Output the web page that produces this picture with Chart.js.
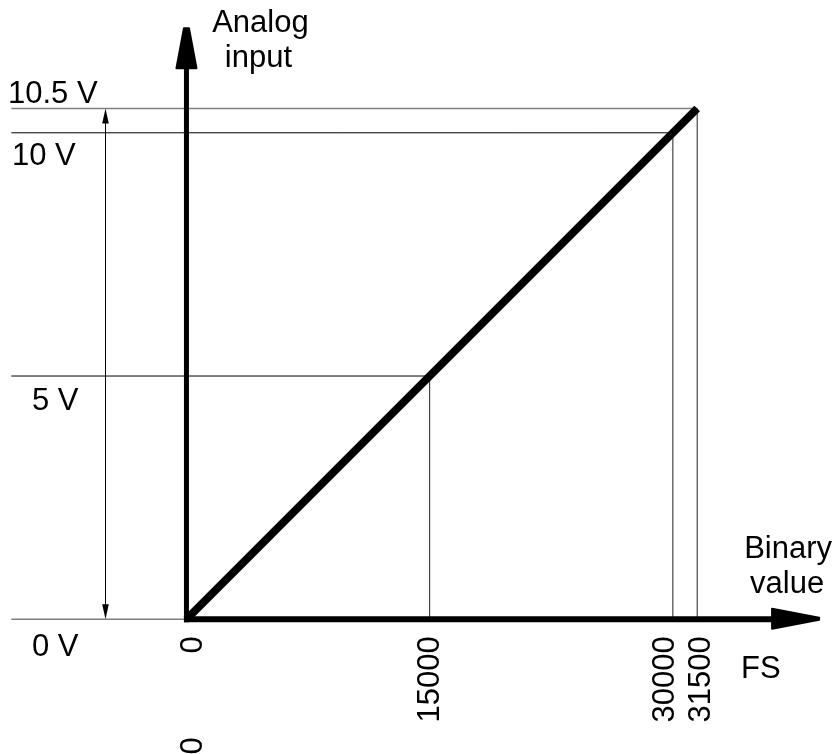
<!DOCTYPE html>
<html>
<head>
<meta charset="utf-8">
<script src="https://cdn.jsdelivr.net/npm/chart.js@4.4.1/dist/chart.umd.min.js"></script>
<style>
  body { margin: 0; background: #fff; }
  #wrap { width: 835px; height: 754px; position: relative; }
</style>
</head>
<body>
<div id="wrap"><canvas id="myChart"></canvas></div>
<script>
// values
const xTicks = [0, 15000, 30000, 31500];
const xTickLabels = ['0', '15000', '30000', '31500'];
const yLevels = [0, 5, 10, 10.5];
const yLevelLabels = ['0 V', '5 V', '10 V', '10.5 V'];
const lineX = [0, 31500];
const lineY = [0, 10.5];
const dimX = -5000;       // the double arrow left of the y axis
const refStartX = -10800; // where the level lines start
const xAxisEnd = 39080;
const yAxisEnd = 12.17;

const FONT = '31px "Liberation Sans", Arial, sans-serif';

const datasets = [];
datasets.push({
    data: lineX.map((x, i) => ({ x: x, y: lineY[i] })),
    borderColor: '#000',
    borderWidth: 8,
    borderCapStyle: 'butt',
    pointRadius: 0,
    showLine: true
});
yLevels.forEach((lv, i) => {
    const edge = (i === 0 || i === yLevels.length - 1);
    datasets.push({
        data: [{ x: refStartX, y: lv }, { x: xTicks[i], y: lv }],
        borderColor: edge ? '#808080' : '#000',
        borderWidth: edge ? 1.6 : 1,
        pointRadius: 0,
        showLine: true
    });
    if (i > 0) {
        datasets.push({
            data: [{ x: xTicks[i], y: 0 }, { x: xTicks[i], y: lv }],
            borderColor: '#222',
            borderWidth: 1,
            pointRadius: 0,
            showLine: true
        });
    }
});

const sketch = {
    id: 'sketch',
    afterDatasetsDraw(chart) {
        const ctx = chart.ctx;
        const xs = chart.scales.x, ys = chart.scales.y;
        const x0 = xs.getPixelForValue(0), y0 = ys.getPixelForValue(0);
        const yTip = ys.getPixelForValue(yAxisEnd);
        const xTip = xs.getPixelForValue(xAxisEnd);
        ctx.save();
        ctx.fillStyle = '#000';
        ctx.strokeStyle = '#000';

        // y axis with arrow
        ctx.lineWidth = 5;
        ctx.beginPath();
        ctx.moveTo(x0, y0 + 3);
        ctx.lineTo(x0, yTip + 40);
        ctx.stroke();
        ctx.lineWidth = 2;
        ctx.lineJoin = 'round';
        ctx.beginPath();
        ctx.moveTo(x0 - 2.5, yTip + 1);
        ctx.lineTo(x0 + 2.5, yTip + 1);
        ctx.lineTo(x0 + 10, yTip + 41);
        ctx.lineTo(x0 - 10, yTip + 41);
        ctx.closePath();
        ctx.fill();
        ctx.stroke();

        // x axis with arrow
        ctx.lineWidth = 6;
        ctx.beginPath();
        ctx.moveTo(x0 - 2.5, y0);
        ctx.lineTo(xTip - 46, y0);
        ctx.stroke();
        ctx.lineWidth = 2;
        ctx.beginPath();
        ctx.moveTo(xTip - 1, y0 - 1.5);
        ctx.lineTo(xTip - 1, y0 + 0.5);
        ctx.lineTo(xTip - 48, y0 + 9.5);
        ctx.lineTo(xTip - 48, y0 - 10.5);
        ctx.closePath();
        ctx.fill();
        ctx.stroke();

        // double arrow 0 .. 10.5 V
        const xd = Math.round(xs.getPixelForValue(dimX)) + 0.5;
        const yb = ys.getPixelForValue(yLevels[0]);
        const yt = ys.getPixelForValue(yLevels[yLevels.length - 1]);
        ctx.lineWidth = 1;
        ctx.beginPath();
        ctx.moveTo(xd, yt + 12);
        ctx.lineTo(xd, yb - 12);
        ctx.stroke();
        ctx.beginPath();
        ctx.moveTo(xd, yt);
        ctx.lineTo(xd + 3.3, yt + 15);
        ctx.lineTo(xd - 3.3, yt + 15);
        ctx.closePath();
        ctx.fill();
        ctx.beginPath();
        ctx.moveTo(xd, yb);
        ctx.lineTo(xd + 3.3, yb - 15);
        ctx.lineTo(xd - 3.3, yb - 15);
        ctx.closePath();
        ctx.fill();

        // texts
        ctx.font = FONT;
        ctx.fillStyle = '#000';
        ctx.textBaseline = 'alphabetic';

        const lx = [32, 32, 12, 8];
        const ly = [37, 34, 32, -5];
        ctx.textAlign = 'left';
        yLevelLabels.forEach((t, i) => {
            ctx.fillText(t, lx[i], ys.getPixelForValue(yLevels[i]) + ly[i]);
        });

        // rotated tick labels, nudged apart where they crowd
        const nudge = [7, 1, -7, 4];
        xTickLabels.forEach((t, i) => {
            ctx.save();
            ctx.translate(xs.getPixelForValue(xTicks[i]) + nudge[i], y0 + 17);
            ctx.rotate(-Math.PI / 2);
            ctx.textAlign = 'right';
            ctx.textBaseline = 'middle';
            ctx.fillText(t, 0, 0);
            ctx.restore();
        });
        // second zero further down
        ctx.save();
        ctx.translate(x0 + nudge[0], y0 + 118);
        ctx.rotate(-Math.PI / 2);
        ctx.textAlign = 'right';
        ctx.textBaseline = 'middle';
        ctx.fillText('0', 0, 0);
        ctx.restore();

        ctx.textAlign = 'center';
        ctx.fillText('Analog', x0 + 74, yTip + 5);
        ctx.fillText('input', x0 + 72, yTip + 40);
        ctx.fillText('Binary', xTip - 32, y0 - 61);
        ctx.fillText('value', xTip - 33, y0 - 26);
        ctx.textAlign = 'left';
        ctx.fillText('FS', xTip - 79, y0 + 59);
        ctx.restore();
    }
};

new Chart(document.getElementById('myChart'), {
    type: 'scatter',
    data: { datasets: datasets },
    options: {
        responsive: true,
        maintainAspectRatio: false,
        animation: false,
        layout: { padding: 0 },
        plugins: { legend: { display: false }, tooltip: { enabled: false } },
        scales: {
            x: { type: 'linear', display: false, min: -11500, max: 40000 },
            y: { type: 'linear', display: false, min: -2.77, max: 12.73 }
        }
    },
    plugins: [sketch]
});
</script>
</body>
</html>
